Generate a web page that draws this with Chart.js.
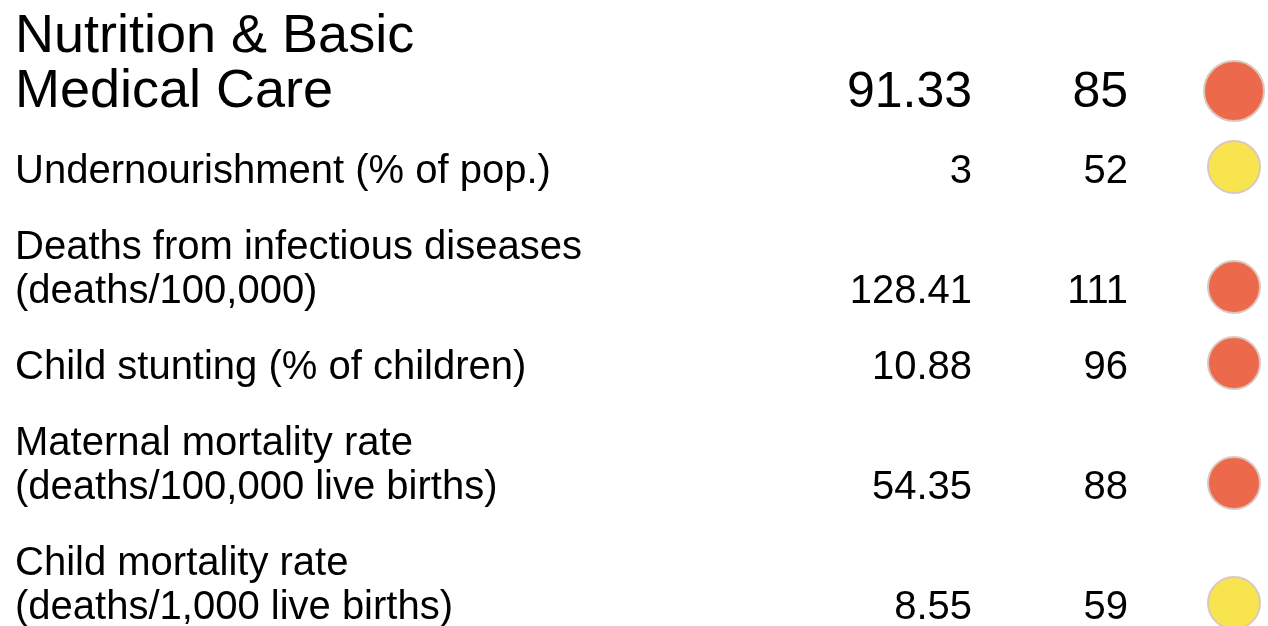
<!DOCTYPE html>
<html lang="en">
<head>
    <meta charset="UTF-8">
    <title>Nutrition & Basic Medical Care</title>
    <script src="https://cdn.jsdelivr.net/npm/chart.js"></script>
    <style>
        body {
            margin: 0;
            background: #ffffff;
        }
        .wrap {
            width: 1268px;
            height: 626px;
            position: relative;
        }
    </style>
</head>
<body>
    <div class="wrap">
        <canvas id="myChart"></canvas>
    </div>

    <script>
        // Rows of the table (label lines), score, rank and strength
        const rowLabels = [
            ['Nutrition & Basic', 'Medical Care'],
            ['Undernourishment (% of pop.)'],
            ['Deaths from infectious diseases', '(deaths/100,000)'],
            ['Child stunting (% of children)'],
            ['Maternal mortality rate', '(deaths/100,000 live births)'],
            ['Child mortality rate', '(deaths/1,000 live births)']
        ];
        const scores = [91.33, 3, 128.41, 10.88, 54.35, 8.55];
        const ranks = [85, 52, 111, 96, 88, 59];
        const strength = ['weakness', 'neutral', 'weakness', 'weakness', 'weakness', 'neutral'];

        const strengthColors = { weakness: '#ec6a4b', neutral: '#f7e44e' };

        // Layout of the table (in pixels of the chart area)
        const W = 1268, H = 626;
        const LABEL_X = 15, SCORE_X = 972, RANK_X = 1128, DOT_X = 1234;
        const HEAD_LINE = 55, LINE = 44, GAP = 76, TOP = 52;

        // baseline of the first and last line of every row
        const firstBase = [], lastBase = [];
        rowLabels.forEach((lines, i) => {
            const start = i === 0 ? TOP : lastBase[i - 1] + GAP;
            firstBase.push(start);
            lastBase.push(start + (lines.length - 1) * (i === 0 ? HEAD_LINE : LINE));
        });

        const tablePlugin = {
            id: 'tableText',
            afterDatasetsDraw(chart) {
                const ctx = chart.ctx;
                const xs = chart.scales.x, ys = chart.scales.y;
                ctx.save();
                ctx.fillStyle = '#000';
                ctx.textBaseline = 'alphabetic';
                rowLabels.forEach((lines, i) => {
                    const head = i === 0;
                    // label lines
                    ctx.textAlign = 'left';
                    ctx.font = (head ? '54px' : '40px') + ' "Liberation Sans", Arial, sans-serif';
                    lines.forEach((txt, k) => {
                        const b = firstBase[i] + k * (head ? HEAD_LINE : LINE);
                        ctx.fillText(txt, xs.getPixelForValue(LABEL_X), ys.getPixelForValue(b));
                    });
                    // score and rank
                    ctx.textAlign = 'right';
                    ctx.font = (head ? '50px' : '40px') + ' "Liberation Sans", Arial, sans-serif';
                    const yb = ys.getPixelForValue(lastBase[i]);
                    ctx.fillText(String(scores[i]), xs.getPixelForValue(SCORE_X), yb);
                    ctx.fillText(String(ranks[i]), xs.getPixelForValue(RANK_X), yb);
                });
                ctx.restore();
            }
        };

        const ctx = document.getElementById('myChart').getContext('2d');
        const chart = new Chart(ctx, {
            type: 'scatter',
            data: {
                datasets: [{
                    data: rowLabels.map((l, i) => ({ x: DOT_X, y: lastBase[i] - 16 })),
                    backgroundColor: strength.map(s => strengthColors[s]),
                    borderColor: '#dac8c0',
                    borderWidth: 2,
                    pointRadius: rowLabels.map((l, i) => i === 0 ? 30 : 26),
                    pointHoverRadius: rowLabels.map((l, i) => i === 0 ? 30 : 26),
                    clip: false
                }]
            },
            options: {
                responsive: true,
                maintainAspectRatio: false,
                animation: false,
                layout: { padding: 0, autoPadding: false },
                plugins: {
                    legend: { display: false },
                    tooltip: { enabled: false }
                },
                scales: {
                    x: { type: 'linear', min: 0, max: W, display: false },
                    y: { type: 'linear', min: 0, max: H, reverse: true, display: false }
                }
            },
            plugins: [tablePlugin]
        });
    </script>
</body>
</html>
